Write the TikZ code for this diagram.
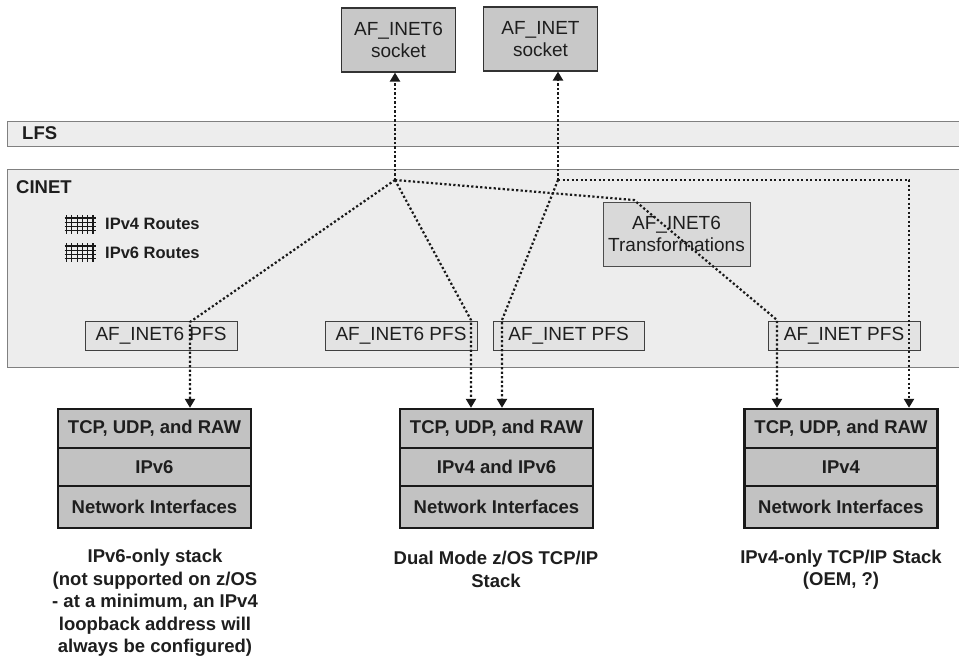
\documentclass[tikz,border=0pt]{standalone}
\usepackage{fontspec}
\setmainfont{Liberation Sans}
\usetikzlibrary{arrows.meta}
\definecolor{sockgray}{HTML}{C8C8C8}
\definecolor{stackgray}{HTML}{C2C2C2}
\definecolor{bandgray}{HTML}{EDEDED}
\definecolor{pfsgray}{HTML}{E3E3E3}
\definecolor{trgray}{HTML}{D9D9D9}
\definecolor{inkgray}{HTML}{1E1E1E}
\begin{document}
\begin{tikzpicture}[x=1pt,y=-1pt,
  reg/.style={font=\fontsize{19}{22}\selectfont, text=inkgray},
  bld/.style={font=\bfseries\fontsize{18.5}{22.5}\selectfont, text=inkgray},
  sock/.style={draw=black!80, line width=1.2pt, fill=sockgray, minimum width=114pt, minimum height=64pt, inner sep=0pt, align=center, reg},
  band/.style={draw=black!50, line width=1.2pt, fill=bandgray, anchor=north west, inner sep=0pt},
  pfs/.style={draw=black!75, line width=1pt, fill=pfsgray, minimum height=29pt, inner sep=0pt, reg},
  trbox/.style={draw=black!70, line width=1pt, fill=trgray, minimum width=147pt, minimum height=64pt, inner sep=0pt, align=center, reg},
  layer/.style={draw=black!90, line width=2.4pt, fill=stackgray, minimum width=193pt, inner sep=0pt, bld},
  conn/.style={line width=2.2pt, dash pattern=on 2.2pt off 2.3pt, black!90},
  tipped/.style={-{Triangle[width=10pt,length=9pt]}},
  caption/.style={bld, align=center},
  lbl/.style={bld, anchor=west, inner sep=0pt}]

\clip (0,0) rectangle (959,662);
\fill[white] (0,0) rectangle (959,662);

% bands
\node[band, minimum width=970pt, minimum height=25pt] (lfs) at (7,121) {};
\node[lbl] (lfstext) at (22,133.5) {LFS};
\node[band, minimum width=970pt, minimum height=198pt] (cinet) at (7,169) {};
\node[lbl] (cinettext) at (16,187) {CINET};

% route icons
\foreach \yy in {215,243} {
  \foreach \i in {0,...,5} \draw[line width=1.1pt, black!90] (66.5+\i*5.3,\yy) -- ++(0,18.5);
  \foreach \j in {0,...,3} \draw[line width=1.1pt, black!90] (64.5,\yy+3+\j*4.3) -- ++(31,0);
}
\node[lbl, font=\bfseries\fontsize{16.5}{20}\selectfont] (r4) at (105,224) {IPv4 Routes};
\node[lbl, font=\bfseries\fontsize{16.5}{20}\selectfont] (r6) at (105,252.5) {IPv6 Routes};

% PFS boxes
\node[pfs, minimum width=152pt] (p1) at (161,335.5) {AF\_INET6 PFS};
\node[pfs, minimum width=152pt] (p2) at (401,335.5) {AF\_INET6 PFS};
\node[pfs, minimum width=151pt] (p3) at (568.5,335.5) {AF\_INET PFS};
\node[pfs, minimum width=152pt] (p4) at (844,335.5) {AF\_INET PFS};

% transformations
\node[trbox] (tr) at (676.5,234) {AF\_INET6\\Transformations};

% sockets
\node[sock] (sock6) at (398.5,40) {AF\_INET6\\socket};
\node[sock] (sock4) at (540.5,39) {AF\_INET\\socket};

% stacks
\node[layer, minimum height=39pt] (s1a) at (154.5,428.5) {TCP, UDP, and RAW};
\node[layer, minimum height=38pt] (s1b) at (154.5,467) {IPv6};
\node[layer, minimum height=42pt] (s1c) at (154.5,507) {Network Interfaces};

\node[layer, minimum height=39pt] (s2a) at (496.5,428.5) {TCP, UDP, and RAW};
\node[layer, minimum height=38pt] (s2b) at (496.5,467) {IPv4 and IPv6};
\node[layer, minimum height=42pt] (s2c) at (496.5,507) {Network Interfaces};

\node[layer, minimum height=39pt] (s3a) at (841,428.5) {TCP, UDP, and RAW};
\node[layer, minimum height=38pt] (s3b) at (841,467) {IPv4};
\node[layer, minimum height=42pt] (s3c) at (841,507) {Network Interfaces};

% captions
\node[caption] (c1) at (155,603) {IPv6-only stack\\(not supported on z/OS\\- at a minimum, an IPv4\\loopback address will\\always be configured)};
\node[caption] (c2) at (496,569.5) {Dual Mode z/OS TCP/IP\\Stack};
\node[caption] (c3) at (841,569.5) {IPv4-only TCP/IP Stack\\(OEM, ?)};

% connector coordinates
\coordinate (h1) at (395,180);
\coordinate (b1) at (190,322);
\coordinate (b2) at (471,320);
\coordinate (b3) at (634,200);
\coordinate (b4) at (777,320);
\coordinate (h2) at (558,180);
\coordinate (b5) at (909,180);
\coordinate (b6) at (502,320);

% connectors
\draw[conn, tipped] (h1) -- (h1 |- sock6.south);
\draw[conn, tipped] (h1) -- (b1) -- (b1 |- s1a.north);
\draw[conn, tipped] (h1) -- (b2) -- (b2 |- s2a.north);
\draw[conn, tipped] (h1) -- (b3) -- (b4) -- (b4 |- s3a.north);
\draw[conn, tipped] (h2) -- (h2 |- sock4.south);
\draw[conn, tipped] (h2) -- (b5) -- (b5 |- s3a.north);
\draw[conn, tipped] (h2) -- (b6) -- (b6 |- s2a.north);
\end{tikzpicture}
\end{document}
